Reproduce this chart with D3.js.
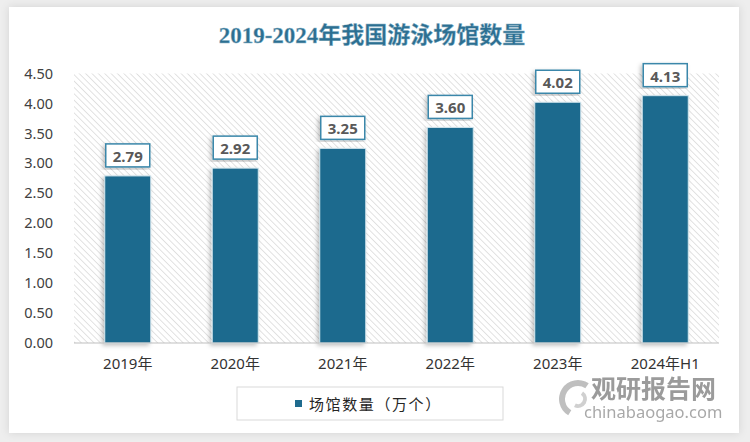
<!DOCTYPE html>
<html><head><meta charset="utf-8">
<script src="https://cdn.jsdelivr.net/npm/d3@7"></script>
<style>body{margin:0;background:#eeeeee;} svg{display:block}</style>
</head><body><svg id="c" width="750" height="442"></svg>
<script>
const categories = ["2019年","2020年","2021年","2022年","2023年","2024年H1"];
const values = [2.79, 2.92, 3.25, 3.60, 4.02, 4.13];
const yTicks = [0, 0.5, 1, 1.5, 2, 2.5, 3, 3.5, 4, 4.5];
const titleText = "2019-2024年我国游泳场馆数量";
const legendLabel = "场馆数量（万个）";

const barColor = "#1f6b8e";
const svg = d3.select("#c");
const defs = svg.append("defs");

// shadows
const sh = defs.append("filter").attr("id","cardShadow").attr("x","-5%").attr("y","-5%").attr("width","110%").attr("height","110%");
sh.append("feDropShadow").attr("dx",0).attr("dy",0).attr("stdDeviation",4).attr("flood-color","#000").attr("flood-opacity",0.12);
const bs = defs.append("filter").attr("id","barShadow").attr("x","-30%").attr("y","-10%").attr("width","160%").attr("height","120%");
bs.append("feDropShadow").attr("dx",-2).attr("dy",2).attr("stdDeviation",2).attr("flood-color","#000").attr("flood-opacity",0.25);

const pat = defs.append("pattern").attr("id","hatch").attr("patternUnits","userSpaceOnUse")
  .attr("width",4.5).attr("height",4.5).attr("patternTransform","rotate(45)");
pat.append("rect").attr("width",4.5).attr("height",4.5).attr("fill","#ffffff");
pat.append("line").attr("x1",0).attr("y1",0).attr("x2",4.5).attr("y2",0)
  .attr("stroke","#d6d6d6").attr("stroke-width",1.4);

// card
svg.append("rect").attr("x",9).attr("y",7).attr("width",730).attr("height",426)
  .attr("fill","#fff").attr("filter","url(#cardShadow)");

// title
svg.append("text").attr("x",372).attr("y",35).attr("text-anchor","middle").attr("dominant-baseline","central")
  .attr("font-family","'Liberation Serif','Noto Sans CJK SC',serif").attr("font-weight","bold")
  .attr("font-size",23).attr("fill","#2c6f91").attr("stroke","#8fb6c9").attr("stroke-width",0.4)
  .text(titleText);

const pL = 74, pR = 719, pT = 73.5, pB = 343;
const x = d3.scaleBand().domain(categories).range([pL, pR]).paddingInner(0.572).paddingOuter(0.286);
const y = d3.scaleLinear().domain([0, 4.5]).range([pB, pT]);

// hatched plot area
svg.append("rect").attr("x",pL).attr("y",pT).attr("width",pR-pL).attr("height",pB-pT)
  .attr("fill","url(#hatch)");

// y axis
const ya = svg.append("g").attr("transform",`translate(${pL},0)`)
  .call(d3.axisLeft(y).tickValues(yTicks).tickFormat(d3.format(".2f")).tickSize(0).tickPadding(21));
ya.select(".domain").remove();
ya.selectAll("text").attr("font-family","'Noto Sans',sans-serif").attr("font-size",14.5).attr("fill","#404040");

// bars
svg.append("g").selectAll("rect").data(values).join("rect")
  .attr("x",(d,i)=>x(categories[i])).attr("width",x.bandwidth())
  .attr("y",d=>y(d)).attr("height",d=>pB-y(d))
  .attr("fill",barColor).attr("stroke","#d3e6ee").attr("stroke-width",1)
  .attr("filter","url(#barShadow)");

// baseline
svg.append("line").attr("x1",pL).attr("x2",pR).attr("y1",pB).attr("y2",pB)
  .attr("stroke","#bfbfbf").attr("stroke-width",1);

// x axis
const xa = svg.append("g").attr("transform",`translate(0,${pB})`)
  .call(d3.axisBottom(x).tickSize(0).tickPadding(15));
xa.select(".domain").remove();
xa.selectAll("text").attr("font-family","'Noto Sans','Noto Sans CJK SC',sans-serif").attr("font-size",15).attr("fill","#333");

// value labels
const lw = 44, lh = 23, gap = 9;
const lg = svg.append("g").selectAll("g").data(values).join("g")
  .attr("transform",(d,i)=>`translate(${x(categories[i])+x.bandwidth()/2},${y(d)-gap-lh})`);
lg.append("rect").attr("x",-lw/2).attr("y",0).attr("width",lw).attr("height",lh)
  .attr("fill","#fff").attr("stroke","#3a87aa").attr("stroke-width",1.5).attr("filter","url(#barShadow)");
lg.append("text").attr("x",0).attr("y",lh/2+0.5).attr("text-anchor","middle").attr("dominant-baseline","central")
  .attr("font-family","'Noto Sans',sans-serif").attr("font-weight","bold").attr("font-size",15)
  .attr("fill","#595959").text(d=>d3.format(".2f")(d));

// legend
svg.append("rect").attr("x",237).attr("y",387).attr("width",266).attr("height",33)
  .attr("fill","#fff").attr("stroke","#d9d9d9").attr("stroke-width",1);
svg.append("rect").attr("x",295).attr("y",400).attr("width",7).attr("height",7).attr("fill",barColor);
svg.append("text").attr("x",309).attr("y",403.5).attr("dominant-baseline","central")
  .attr("font-family","'Noto Sans CJK SC',sans-serif").attr("font-size",15).attr("letter-spacing",1.6)
  .attr("fill","#262626").text(legendLabel);

// watermark
const wm = svg.append("g").attr("opacity",0.85);
wm.append("path").attr("d",d3.arc()({innerRadius:13,outerRadius:19,startAngle:-2.6,endAngle:0.6}))
  .attr("transform","translate(578,399)").attr("fill","#b5b5b5");
wm.append("path").attr("d",d3.arc()({innerRadius:5,outerRadius:9,startAngle:0.6,endAngle:3.6}))
  .attr("transform","translate(578,399)").attr("fill","#c8c8c8");
wm.append("text").attr("x",591).attr("y",398).attr("font-family","'Noto Sans CJK SC',sans-serif")
  .attr("font-weight","bold").attr("font-size",25).attr("fill","#8a8a8a").text("观研报告网");
wm.append("text").attr("x",584).attr("y",418).attr("font-family","'Noto Sans',sans-serif")
  .attr("font-size",16.5).attr("fill","#9a9a9a").text("chinabaogao.com");
</script></body></html>
